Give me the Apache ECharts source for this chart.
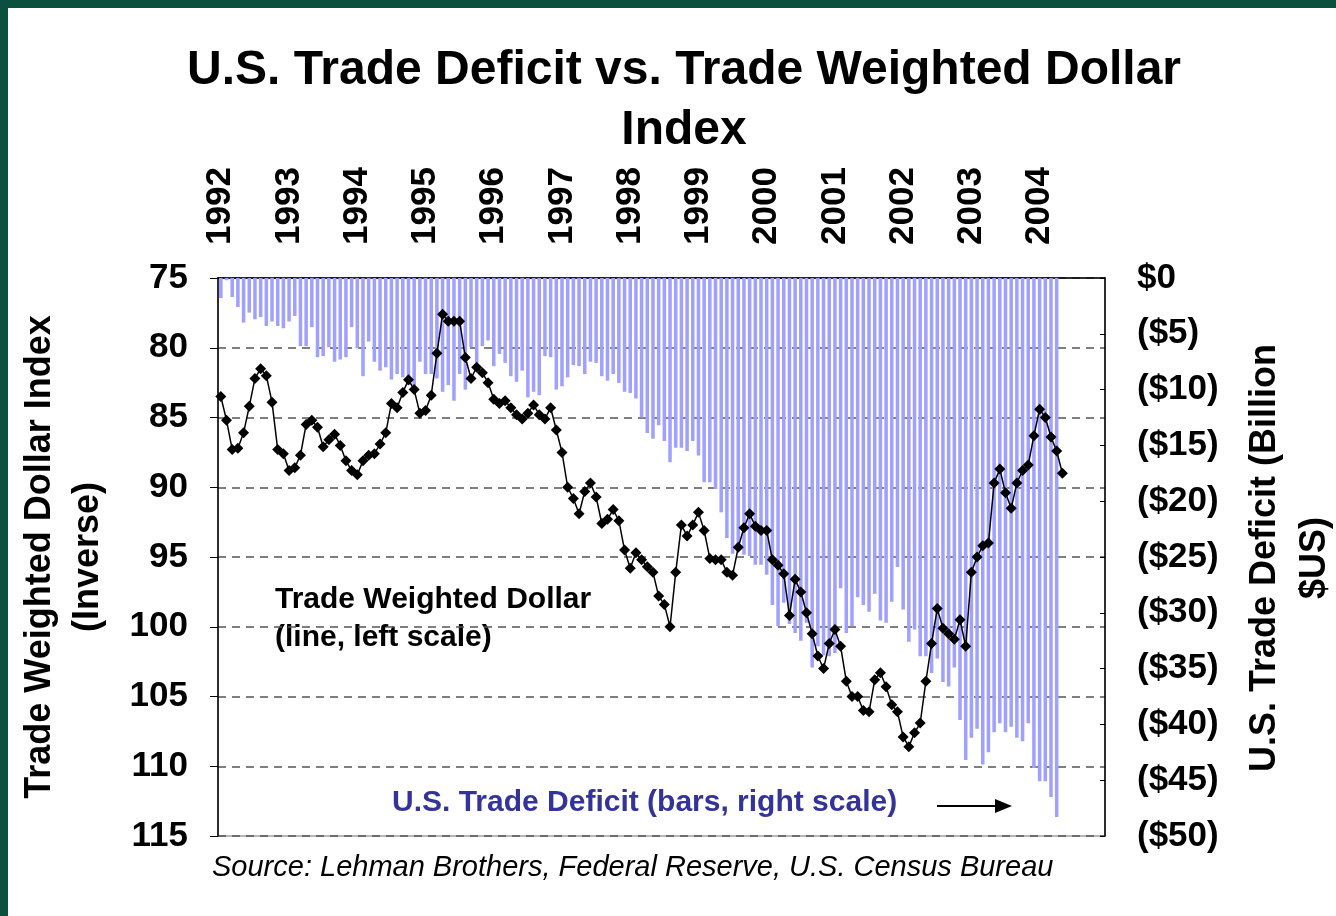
<!DOCTYPE html>
<html>
<head>
<meta charset="utf-8">
<title>U.S. Trade Deficit vs. Trade Weighted Dollar Index</title>
<script src="https://cdn.jsdelivr.net/npm/echarts@6/dist/echarts.min.js"></script>
<style>
  html, body { margin: 0; padding: 0; background: #ffffff; }
  #chart { width: 1336px; height: 916px; }
</style>
</head>
<body>
<div id="chart"></div>
<script>
// --- data ---
const years = ["1992", "1993", "1994", "1995", "1996", "1997", "1998", "1999", "2000", "2001", "2002", "2003", "2004"];

// trade weighted dollar index, monthly from Jan 1992 (left scale, inverse)
const dollarIndex = [
  83.5, 85.2, 87.3, 87.2, 86.1, 84.2, 82.2, 81.5, 82.0, 83.9, 87.3, 87.6,
  88.8, 88.6, 87.7, 85.5, 85.2, 85.7, 87.1, 86.6, 86.2, 87.0, 88.1, 88.8,
  89.1, 88.1, 87.7, 87.6, 86.9, 86.1, 84.0, 84.3, 83.2, 82.3, 83.0, 84.7,
  84.5, 83.4, 80.4, 77.6, 78.1, 78.1, 78.1, 80.7, 82.2, 81.4, 81.8, 82.5,
  83.7, 84.0, 83.8, 84.3, 84.8, 85.1, 84.7, 84.1, 84.8, 85.1, 84.3, 85.9,
  87.5, 90.0, 90.8, 91.9, 90.3, 89.7, 90.7, 92.6, 92.3, 91.6, 92.4, 94.5,
  95.8, 94.7, 95.2, 95.7, 96.1, 97.8, 98.4, 100.0, 96.1, 92.7, 93.5, 92.7,
  91.8, 93.1, 95.1, 95.2, 95.2, 96.1, 96.3, 94.3, 92.9, 91.9, 92.8, 93.1,
  93.1, 95.2, 95.6, 96.2, 99.2, 96.6, 97.5, 99.0, 100.5, 102.1, 103.0, 101.2,
  100.2, 101.4, 103.9, 105.0, 105.0, 106.0, 106.1, 103.8, 103.3, 104.3, 105.6, 106.1,
  107.9, 108.6, 107.6, 106.9, 103.9, 101.2, 98.7, 100.1, 100.5, 100.9, 99.5, 101.4,
  96.1, 95.0, 94.2, 94.0, 89.7, 88.7, 90.4, 91.5, 89.7, 88.8, 88.4, 86.3,
  84.4, 85.0, 86.4, 87.4, 89.0
];

// U.S. trade deficit, billions of dollars, monthly from Jan 1992 (right scale)
const tradeDeficit = [
  1.8, 0.2, 1.7, 2.6, 4.0, 3.1, 3.7, 3.5, 4.3, 3.9, 4.3, 4.5,
  3.9, 3.4, 6.1, 6.1, 4.4, 7.1, 7.0, 6.2, 7.5, 7.3, 7.1, 4.4,
  6.3, 8.8, 5.7, 7.5, 8.3, 8.0, 9.1, 8.6, 8.9, 9.6, 9.6, 7.5,
  8.6, 8.6, 9.0, 10.2, 9.6, 11.0, 8.6, 10.0, 6.2, 7.6, 6.1, 5.6,
  7.9, 6.8, 7.6, 8.8, 9.3, 8.3, 10.7, 10.2, 10.5, 7.0, 7.1, 10.0,
  9.7, 8.9, 7.8, 7.9, 8.6, 7.5, 7.6, 8.8, 9.2, 8.6, 9.4, 10.2,
  10.3, 10.8, 12.5, 13.9, 14.4, 13.2, 14.6, 16.5, 15.2, 15.2, 15.5, 14.6,
  15.9, 18.3, 18.3, 18.9, 21.0, 23.3, 24.7, 24.1, 24.8, 24.9, 25.7, 25.7,
  26.6, 29.3, 31.2, 29.1, 31.0, 31.8, 32.5, 30.9, 34.9, 33.0, 33.8, 33.9,
  33.6, 27.8, 31.8, 31.2, 28.6, 29.3, 29.9, 28.3, 30.7, 30.9, 29.0, 25.9,
  29.7, 32.6, 31.5, 33.9, 33.9, 35.4, 34.1, 36.2, 36.6, 34.9, 39.6, 43.2,
  41.2, 40.4, 43.6, 42.5, 40.7, 39.9, 40.7, 40.2, 41.2, 41.5, 39.9, 43.9,
  45.1, 45.1, 46.5, 48.3
];

// month categories built from the years
const months = [];
years.forEach(function (y) {
  for (let m = 1; m <= 12; m++) {
    months.push(y + "-" + (m < 10 ? "0" + m : m));
  }
});

const FONT = "'Liberation Sans', Arial, sans-serif";

const chart = echarts.init(document.getElementById("chart"));

const option = {
  animation: false,
  backgroundColor: "#ffffff",
  title: {
    text: "U.S. Trade Deficit vs. Trade Weighted Dollar\nIndex",
    left: 679,
    top: 36,
    textAlign: "center",
    textStyle: {
      fontFamily: FONT,
      fontSize: 48,
      fontWeight: "bold",
      color: "#000000",
      lineHeight: 60,
    },
  },
  grid: {
    left: 218,
    right: 231,
    top: 278,
    bottom: 80,
    show: true,
    borderColor: "#a0a0a0",
    borderWidth: 1.5,
  },
  xAxis: {
    type: "category",
    data: months,
    position: "top",
    boundaryGap: true,
    axisLine: { onZero: false, lineStyle: { color: "#000000", width: 1.5 } },
    axisTick: { show: false },
    splitLine: { show: false },
    axisLabel: {
      interval: function (index) {
        return index % 12 === 0;
      },
      formatter: function (value) {
        return value.slice(0, 4);
      },
      rotate: -90,
      margin: 33,
      fontFamily: FONT,
      fontSize: 35,
      fontWeight: "bold",
      color: "#000000",
    },
  },
  yAxis: [
    {
      type: "value",
      position: "left",
      inverse: true,
      min: 75,
      max: 115,
      interval: 5,
      axisLine: { show: true, lineStyle: { color: "#000000", width: 1.5 } },
      axisTick: { show: true, length: 8, lineStyle: { color: "#000000" } },
      axisLabel: {
        margin: 30,
        fontFamily: FONT,
        fontSize: 35,
        fontWeight: "bold",
        color: "#000000",
      },
      splitLine: {
        show: true,
        lineStyle: { color: "#555555", type: [8, 6], width: 1.5 },
      },
    },
    {
      type: "value",
      position: "right",
      min: -50,
      max: 0,
      interval: 5,
      axisLine: { show: true, lineStyle: { color: "#000000", width: 1.5 } },
      axisTick: { show: true, inside: true, length: 5, lineStyle: { color: "#000000" } },
      axisLabel: {
        margin: 32,
        fontFamily: FONT,
        fontSize: 35,
        fontWeight: "bold",
        color: "#000000",
        formatter: function (value) {
          return value === 0 ? "$0" : "($" + -value + ")";
        },
      },
      splitLine: { show: false },
    },
  ],
  series: [
    {
      name: "U.S. Trade Deficit",
      type: "bar",
      yAxisIndex: 1,
      data: tradeDeficit.map(function (v) {
        return -v;
      }),
      barWidth: "62%",
      itemStyle: { color: "#a0a0ff" },
      z: 2,
    },
    {
      name: "Trade Weighted Dollar",
      type: "line",
      yAxisIndex: 0,
      data: dollarIndex,
      symbol: "diamond",
      symbolSize: 11,
      showAllSymbol: true,
      itemStyle: { color: "#000000" },
      lineStyle: { color: "#000000", width: 1.5 },
      z: 3,
    },
  ],
  graphic: [
    // green frame of the slide
    { type: "rect", shape: { x: 0, y: 0, width: 1336, height: 8 }, style: { fill: "#0b4f3e" } },
    { type: "rect", shape: { x: 0, y: 0, width: 8, height: 916 }, style: { fill: "#0b4f3e" } },
    // axis names
    {
      type: "text",
      x: 40,
      y: 557,
      rotation: Math.PI / 2,
      style: {
        text: "Trade Weighted Dollar Index",
        font: "bold 36px " + FONT,
        fill: "#000000",
        align: "center",
        verticalAlign: "middle",
      },
    },
    {
      type: "text",
      x: 88,
      y: 557,
      rotation: Math.PI / 2,
      style: {
        text: "(Inverse)",
        font: "bold 36px " + FONT,
        fill: "#000000",
        align: "center",
        verticalAlign: "middle",
      },
    },
    {
      type: "text",
      x: 1265,
      y: 558,
      rotation: Math.PI / 2,
      style: {
        text: "U.S. Trade Deficit (Billion",
        font: "bold 36px " + FONT,
        fill: "#000000",
        align: "center",
        verticalAlign: "middle",
      },
    },
    {
      type: "text",
      x: 1315,
      y: 558,
      rotation: Math.PI / 2,
      style: {
        text: "$US)",
        font: "bold 36px " + FONT,
        fill: "#000000",
        align: "center",
        verticalAlign: "middle",
      },
    },
    // series annotations
    {
      type: "text",
      x: 275,
      y: 600,
      style: {
        text: "Trade Weighted Dollar",
        font: "bold 30px " + FONT,
        fill: "#000000",
        align: "left",
        verticalAlign: "middle",
      },
    },
    {
      type: "text",
      x: 275,
      y: 638,
      style: {
        text: "(line, left scale)",
        font: "bold 30px " + FONT,
        fill: "#000000",
        align: "left",
        verticalAlign: "middle",
      },
    },
    {
      type: "text",
      x: 392,
      y: 803,
      style: {
        text: "U.S. Trade Deficit (bars, right scale)",
        font: "bold 30px " + FONT,
        fill: "#333399",
        align: "left",
        verticalAlign: "middle",
      },
    },
    {
      type: "line",
      shape: { x1: 937, y1: 806, x2: 998, y2: 806 },
      style: { stroke: "#000000", lineWidth: 2 },
    },
    {
      type: "polygon",
      shape: { points: [[995, 799], [1012, 806], [995, 813]] },
      style: { fill: "#000000" },
    },
    // source note
    {
      type: "text",
      x: 212,
      y: 868,
      style: {
        text: "Source: Lehman Brothers, Federal Reserve, U.S. Census Bureau",
        font: "italic 29px " + FONT,
        fill: "#000000",
        align: "left",
        verticalAlign: "middle",
      },
    },
  ],
};

chart.setOption(option);
</script>
</body>
</html>
